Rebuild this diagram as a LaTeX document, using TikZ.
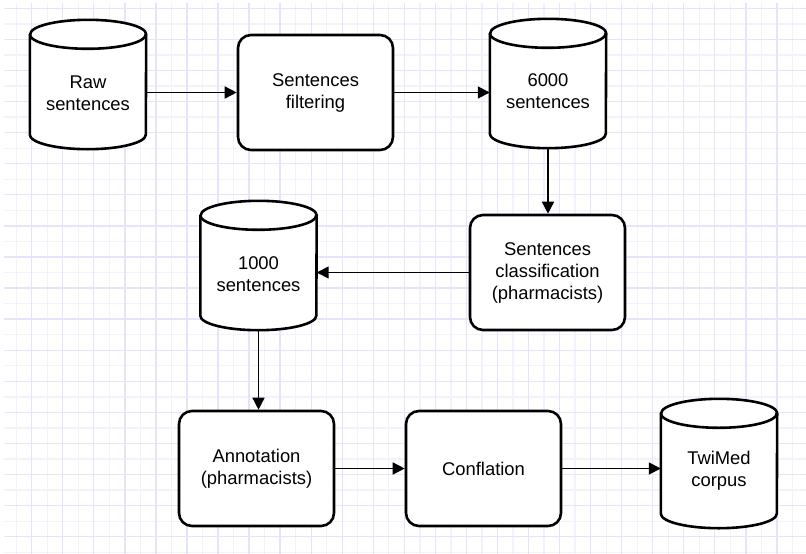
\documentclass[tikz,border=0pt]{standalone}
\usepackage{fontspec}
\setmainfont{Liberation Sans}
\usetikzlibrary{arrows.meta,calc}
\definecolor{gridmajor}{RGB}{228,228,251}
\definecolor{gridminor}{RGB}{242,242,253}
\newcommand\cylpath[2]{%
  \draw[line width=2.6pt, fill=white, line join=round]
    ([yshift=-14.5pt]#1.north west) -- ([yshift=14.5pt]#1.south west)
    arc[start angle=180, end angle=360, x radius=#2pt, y radius=14.5pt]
    -- ([yshift=-14.5pt]#1.north east)
    arc[start angle=0, end angle=180, x radius=#2pt, y radius=14.5pt] -- cycle;
  \draw[line width=2.6pt] ([yshift=-14.5pt]#1.north west)
    arc[start angle=180, end angle=360, x radius=#2pt, y radius=14.5pt];}
\begin{document}
\begin{tikzpicture}[x=1pt, y=-1pt,
  procbox/.style={draw, line width=2.6pt, rounded corners=13pt, fill=white,
    align=center, font=\fontsize{18.4}{22}\selectfont, inner sep=0pt,
    minimum width=155pt, minimum height=115pt},
  cylframe/.style={inner sep=0pt, minimum width=116pt, minimum height=129pt},
  cyltext/.style={align=center, font=\fontsize{18.4}{22}\selectfont, inner sep=0pt},
  flow/.style={line width=1.5pt, -{Triangle[length=12pt, width=12pt]}},
  gmin/.style={gridminor, line width=1.3pt},
  gmaj/.style={gridmajor, line width=1.3pt}]
\useasboundingbox (0,0) rectangle (806,554);
\fill[white] (0,0) rectangle (806,554);
% grid
\foreach \i in {0,...,25} \draw[gmin] ({16.2+31.05*\i},3) -- ({16.2+31.05*\i},554);
\foreach \i in {0,...,17} \draw[gmin] (4,{23.9+31.08*\i}) -- (806,{23.9+31.08*\i});
\foreach \i in {0,...,24} \draw[gmaj] ({31.7+31.05*\i},3) -- ({31.7+31.05*\i},554);
\foreach \i in {0,...,17} \draw[gmaj] (4,{8.3+31.08*\i}) -- (806,{8.3+31.08*\i});
% cylinders (frames)
\node[cylframe] (raw) at (88,84.5) {};
\node[cylframe] (c6000) at (548,83.5) {};
\node[cylframe] (c1000) at (258.5,265.5) {};
\node[cylframe] (twimed) at (719,463.5) {};
\cylpath{raw}{58}
\cylpath{c6000}{58}
\cylpath{c1000}{58}
\cylpath{twimed}{58}
\node[cyltext] (rawt) at ([yshift=-8.5pt]raw.center) {Raw\\sentences};
\node[cyltext] (c6000t) at ([yshift=-8pt]c6000.center) {6000\\sentences};
\node[cyltext] (c1000t) at ([yshift=-8.5pt]c1000.center) {1000\\sentences};
\node[cyltext] (twimedt) at ([yshift=-7.5pt]twimed.center) {TwiMed\\corpus};
% process boxes
\node[procbox] (filter) at (315.5,92.5) {Sentences\\filtering};
\node[procbox] (class) at (547.5,272.5) {Sentences\\classification\\(pharmacists)};
\node[procbox] (annot) at (256.5,468.5) {Annotation\\(pharmacists)};
\node[procbox] (confl) at (483.5,468.5) {Conflation};
% connectors
\draw[flow] (filter.west -| raw.east) -- (filter.west);
\draw[flow] (filter.east) -- (filter.east -| c6000.west);
\draw[flow] (c6000.south) -- (c6000.south |- class.north);
\draw[flow] (class.west) -- (class.west -| c1000.east);
\draw[flow] (c1000.south) -- (c1000.south |- annot.north);
\draw[flow] (annot.east) -- (confl.west);
\draw[flow] (confl.east) -- (confl.east -| twimed.west);
\end{tikzpicture}
\end{document}
